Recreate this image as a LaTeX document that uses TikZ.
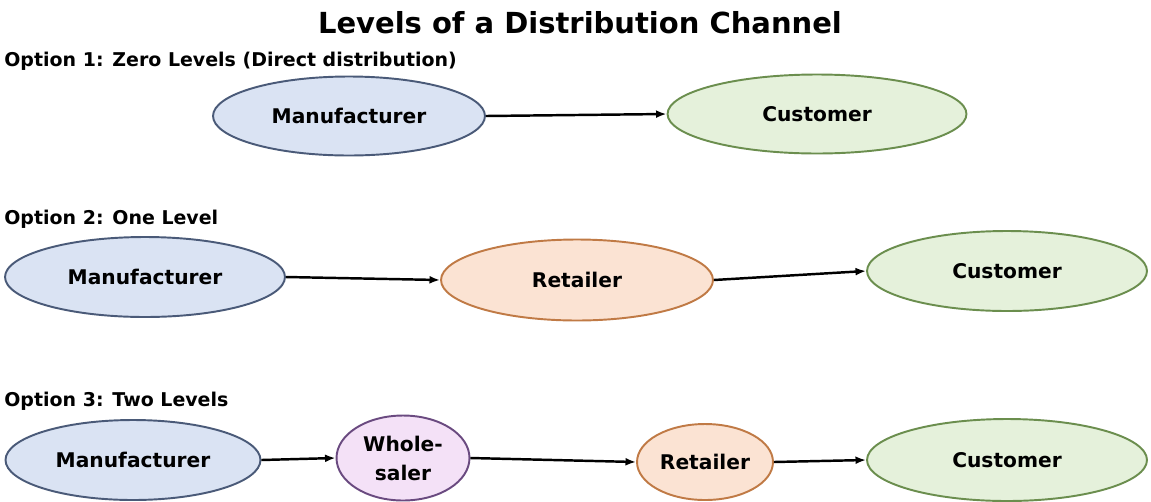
\documentclass[tikz,border=0pt]{standalone}
\usepackage{fontspec}
\setmainfont{DejaVu Sans}
\usetikzlibrary{shapes.geometric,arrows.meta}

\definecolor{mfill}{HTML}{DAE3F3}
\definecolor{mline}{HTML}{4A5A78}
\definecolor{rfill}{HTML}{FBE3D3}
\definecolor{rline}{HTML}{C07A45}
\definecolor{cfill}{HTML}{E5F1DB}
\definecolor{cline}{HTML}{6B8E4E}
\definecolor{wfill}{HTML}{F4E1F7}
\definecolor{wline}{HTML}{6A4A80}

\begin{document}
\begin{tikzpicture}[
    x=0.02cm,y=-0.02cm,
    stage/.style={ellipse,line width=1.1pt,inner sep=0pt,align=center,
      font=\bfseries\fontsize{11.5}{15}\selectfont},
    maker/.style={stage,draw=mline,fill=mfill},
    retail/.style={stage,draw=rline,fill=rfill},
    buyer/.style={stage,draw=cline,fill=cfill},
    whole/.style={stage,draw=wline,fill=wfill},
    option/.style={right,inner sep=0pt,font=\bfseries\fontsize{10.8}{12}\selectfont},
    arr/.style={-{Latex[length=6pt,width=4.5pt]},line width=1.4pt},
  ]

  \useasboundingbox (0,0) rectangle (1151,501);

  \node (title) at (580,23) [font=\bfseries\fontsize{16.5}{19}\selectfont] {Levels of a Distribution Channel};

  \node (opt-1) at (4,61) [option] {Option 1: Zero Levels (Direct distribution)};

  \node (m-1) at (349,116) [maker,minimum width=5.44cm,minimum height=1.58cm] {Manufacturer};
  \node (c-1) at (817,114) [buyer,minimum width=5.98cm,minimum height=1.58cm] {Customer};

  \draw[arr] (m-1.east) -- (c-1.west);

  \node (opt-2) at (4,219) [option] {Option 2: One Level};

  \node (m-2) at (145,277) [maker,minimum width=5.6cm,minimum height=1.6cm] {Manufacturer};
  \node (r-2) at (577,280) [retail,minimum width=5.44cm,minimum height=1.62cm] {Retailer};
  \node (c-2) at (1007,271) [buyer,minimum width=5.6cm,minimum height=1.6cm] {Customer};

  \draw[arr] (m-2.east) -- (r-2.west);
  \draw[arr] (r-2.east) -- (c-2.west);

  \node (opt-3) at (4,401) [option] {Option 3: Two Levels};

  \node (m-3) at (133,460) [maker,minimum width=5.1cm,minimum height=1.6cm] {Manufacturer};
  \node (w-3) at (403,458) [whole,minimum width=2.66cm,minimum height=1.7cm,
    font=\bfseries\fontsize{11.5}{16.5}\selectfont] {Whole-\\saler};
  \node (r-3) at (705,462) [retail,minimum width=2.72cm,minimum height=1.52cm] {Retailer};
  \node (c-3) at (1007,460) [buyer,minimum width=5.6cm,minimum height=1.64cm] {Customer};

  \draw[arr] (m-3.east) -- (w-3.west);
  \draw[arr] (w-3.east) -- (r-3.west);
  \draw[arr] (r-3.east) -- (c-3.west);

\end{tikzpicture}
\end{document}
